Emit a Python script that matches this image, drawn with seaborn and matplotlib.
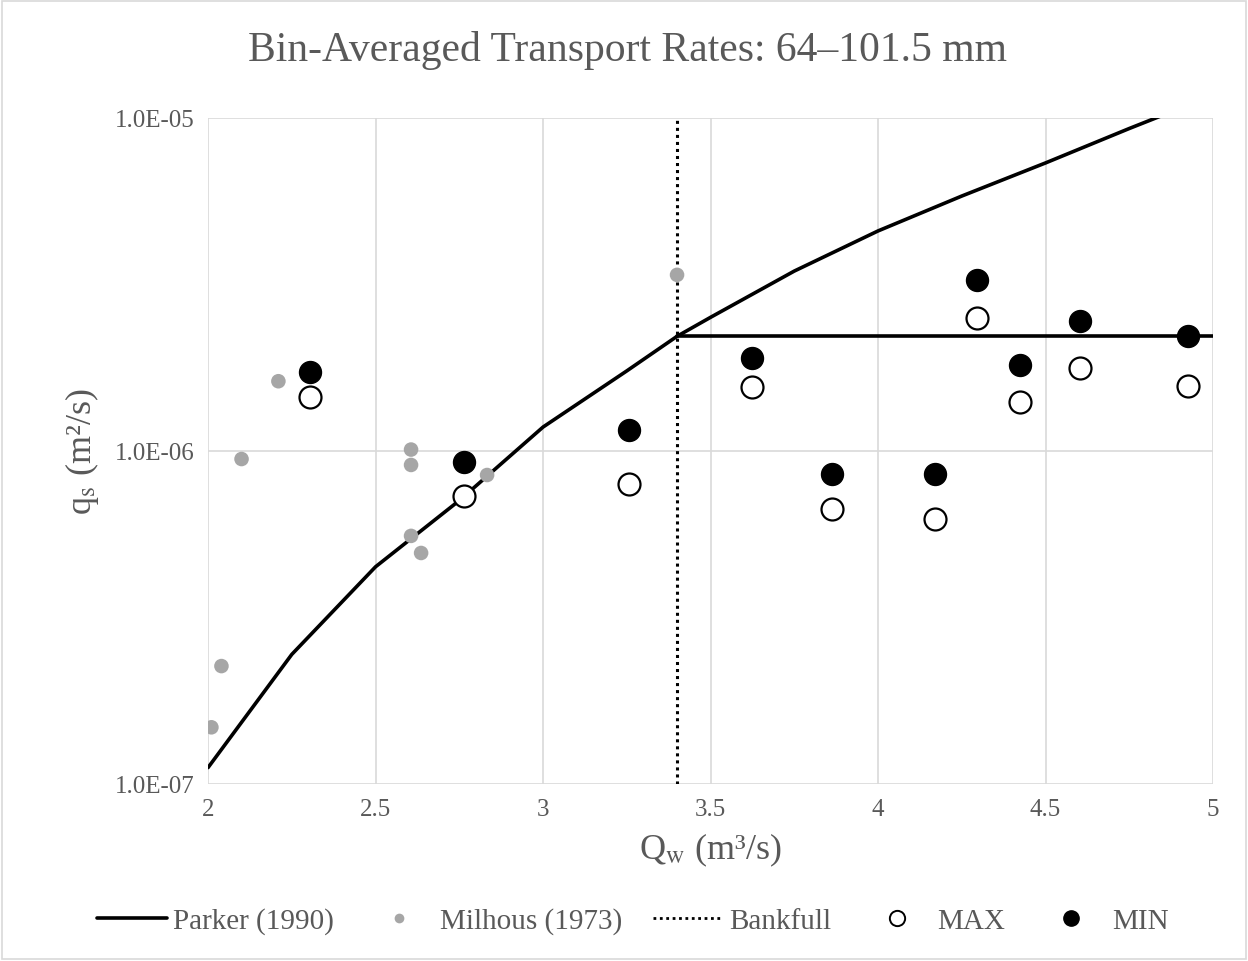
import numpy as np
import pandas as pd
import matplotlib
matplotlib.use("Agg")
import matplotlib.pyplot as plt
from matplotlib.ticker import FixedLocator, NullLocator
from matplotlib.lines import Line2D
from matplotlib.patches import Rectangle
import seaborn as sns

# ---- data ----
parker_q = [2.0, 2.25, 2.5, 2.75, 3.0, 3.25, 3.4, 3.5, 3.75, 4.0, 4.25, 4.5, 4.75, 5.0]
parker_qs = [1.12e-7, 2.45e-7, 4.49e-7, 7.1e-7, 1.18e-6, 1.74e-6, 2.21e-6, 2.52e-6,
             3.47e-6, 4.58e-6, 5.83e-6, 7.33e-6, 9.3e-6, 1.17e-5]
cap_q = [3.4, 5.0]
cap_qs = [2.21e-6, 2.21e-6]

milhous_q = [2.01, 2.04, 2.10, 2.21, 2.606, 2.606, 2.606, 2.636, 2.833, 3.40]
milhous_qs = [1.48e-7, 2.26e-7, 9.46e-7, 1.62e-6, 1.01e-6, 9.08e-7, 5.56e-7, 4.94e-7, 8.47e-7, 3.38e-6]

bin_q = [2.304, 2.764, 3.257, 3.624, 3.863, 4.170, 4.296, 4.424, 4.603, 4.925]
min_qs = [1.73e-6, 9.27e-7, 1.16e-6, 1.90e-6, 8.53e-7, 8.53e-7, 3.27e-6, 1.81e-6, 2.45e-6, 2.21e-6]
max_qs = [1.45e-6, 7.33e-7, 7.96e-7, 1.56e-6, 6.70e-7, 6.25e-7, 2.51e-6, 1.40e-6, 1.77e-6, 1.57e-6]

bankfull_q = 3.4
y_ticks = [1e-7, 1e-6, 1e-5]
y_tick_labels = ["1.0E-07", "1.0E-06", "1.0E-05"]
x_ticks = [2, 2.5, 3, 3.5, 4, 4.5, 5]
x_tick_labels = ["2", "2.5", "3", "3.5", "4", "4.5", "5"]

sns.set_style("white")
plt.rcParams['font.family'] = ['Liberation Serif', 'DejaVu Serif']
plt.rcParams['mathtext.fontset'] = 'stix'

txt = "#595959"
fig = plt.figure(figsize=(12.48, 9.62), dpi=100)
ax = fig.add_axes([0.1667, 0.184, 0.8053, 0.6923])

ax.set_yscale("log")
ax.set_xlim(2, 5)
ax.set_ylim(1e-7, 1e-5)

sns.lineplot(x=parker_q, y=parker_qs, ax=ax, color="black", lw=2.6, zorder=3)
sns.lineplot(x=cap_q, y=cap_qs, ax=ax, color="black", lw=2.6, zorder=3)
ax.axvline(bankfull_q, color="black", lw=2.2, ls=(0, (1, 1.3)), zorder=3)

sns.scatterplot(x=milhous_q, y=milhous_qs, ax=ax, color="#a6a6a6", s=110, edgecolor="none", zorder=4)
sns.scatterplot(x=bin_q, y=max_qs, ax=ax, color="white", s=250, edgecolor="black", linewidth=1.6, zorder=5)
sns.scatterplot(x=bin_q, y=min_qs, ax=ax, color="black", s=250, edgecolor="black", linewidth=1.0, zorder=5)

ax.yaxis.set_major_locator(FixedLocator(y_ticks))
ax.yaxis.set_minor_locator(NullLocator())
ax.set_yticklabels(y_tick_labels)
ax.set_xticks(x_ticks)
ax.set_xticklabels(x_tick_labels)
ax.tick_params(axis="both", which="both", length=0, labelsize=18, labelcolor=txt, pad=10)
ax.grid(True, color="#d9d9d9", lw=1.2, zorder=0)
ax.set_axisbelow(True)
for s in ax.spines.values():
    s.set_visible(False)

ax.set_xlabel(r"Q$_\mathrm{w}$ (m³/s)", fontsize=26, color=txt, labelpad=8)
ax.set_ylabel(r"q$_\mathrm{s}$ (m²/s)", fontsize=26, color=txt, labelpad=10)
fig.text(0.503, 0.947, "Bin-Averaged Transport Rates: 64–101.5 mm", ha="center", va="center",
         fontsize=30, color=txt)

handles = [
    Line2D([], [], color="black", lw=2.6),
    Line2D([], [], marker="o", ls="none", color="#a6a6a6", markersize=7, markeredgecolor="none"),
    Line2D([], [], color="black", lw=2.0, ls=(0, (1, 1.3))),
    Line2D([], [], marker="o", ls="none", markerfacecolor="white", markeredgecolor="black", markersize=11, markeredgewidth=1.4),
    Line2D([], [], marker="o", ls="none", markerfacecolor="black", markeredgecolor="black", markersize=11),
]
labels = ["Parker (1990)", "Milhous (1973)", "Bankfull", "MAX", "MIN"]
leg = fig.legend(handles, labels, loc="center", bbox_to_anchor=(0.507, 0.042), ncol=5, frameon=False,
                 fontsize=21, handlelength=2.4, columnspacing=1.05, handletextpad=0.2)
for t in leg.get_texts():
    t.set_color(txt)

fig.patches.append(Rectangle((0.002, 0.002), 0.996, 0.996, transform=fig.transFigure,
                             fill=False, edgecolor="#d9d9d9", lw=1.2))

fig.savefig("out.png", dpi=100, facecolor="white")
